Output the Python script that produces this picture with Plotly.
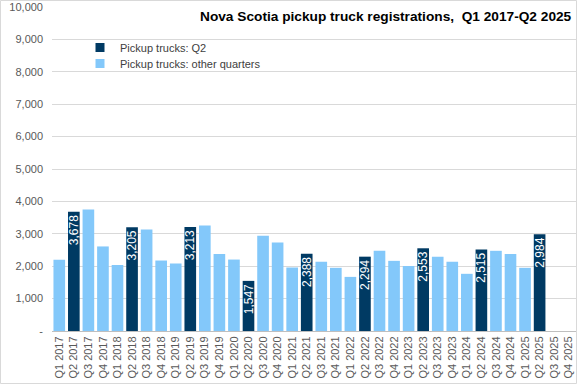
import plotly.graph_objects as go

categories = [f"Q{q} {y}" for y in range(2017, 2026) for q in range(1, 5)]

registrations = [
    2200, 3678, 3750, 2610,
    2040, 3205, 3135, 2175,
    2080, 3213, 3255, 2380,
    2205, 1547, 2940, 2730,
    1960, 2388, 2135, 1950,
    1670, 2294, 2475, 2165,
    2010, 2553, 2290, 2135,
    1765, 2515, 2475, 2380,
    1950, 2984, None, None,
]

series_names = ["Pickup trucks: Q2", "Pickup trucks: other quarters"]
series_colors = ["#003A63", "#83C8FA"]

q2_vals = [v if c.startswith("Q2") else None for c, v in zip(categories, registrations)]
other_vals = [v if not c.startswith("Q2") else None for c, v in zip(categories, registrations)]
q2_text = [f"{v:,}" if v is not None else "" for v in q2_vals]

W, H = 577, 385
ML, MR, MT, MB = 52, 1, 7, 54
PW, PH = W - ML - MR, H - MT - MB

fig = go.Figure()
fig.add_trace(go.Bar(
    x=categories, y=q2_vals, name=series_names[0], showlegend=False,
    marker=dict(color=series_colors[0], line=dict(width=0)),
    text=q2_text, textposition="inside", insidetextanchor="end",
    textangle=-90, constraintext="none",
    textfont=dict(color="white", size=12, family="Liberation Sans, Arial, sans-serif"),
))
fig.add_trace(go.Bar(
    x=categories, y=other_vals, name=series_names[1], showlegend=False,
    marker=dict(color=series_colors[1], line=dict(width=0)),
))
# legend entries with small square keys, one legend box per row
for name, col, lg in zip(series_names, series_colors, ["legend", "legend2"]):
    fig.add_trace(go.Scatter(
        x=[None], y=[None], mode="markers", name=name, legend=lg,
        marker=dict(symbol="square", size=9, color=col),
    ))

legend_common = dict(
    xanchor="left", yanchor="top", bgcolor="rgba(0,0,0,0)",
    font=dict(size=11, color="#404040"), itemwidth=30,
)

fig.update_layout(
    width=W, height=H,
    margin=dict(l=ML, r=MR, t=MT, b=MB),
    paper_bgcolor="white", plot_bgcolor="white",
    barmode="overlay", bargap=0.2,
    font=dict(family="Liberation Sans, Arial, sans-serif", size=11, color="#595959"),
    legend=dict(x=(80 - ML) / PW, y=(H - MB - 33) / PH, **legend_common),
    legend2=dict(x=(80 - ML) / PW, y=(H - MB - 49) / PH, **legend_common),
    showlegend=True,
    xaxis=dict(
        type="category", categoryorder="array", categoryarray=categories,
        tickangle=-90, showgrid=False, showline=True, linecolor="#BFBFBF",
        linewidth=1, ticks="", tickfont=dict(size=11, color="#595959"),
    ),
    yaxis=dict(
        range=[0, 10000], tickvals=list(range(0, 10001, 1000)),
        ticktext=["-"] + [f"{v:,}" for v in range(1000, 10001, 1000)],
        showgrid=True, gridcolor="#D9D9D9", gridwidth=1, zeroline=False,
        ticks="", ticklabelstandoff=8, tickfont=dict(size=11, color="#595959"),
    ),
    annotations=[dict(
        text="<b>Nova Scotia pickup truck registrations,  Q1 2017-Q2 2025</b>",
        xref="paper", yref="paper", x=(574 - ML) / PW, y=(H - MB - 16) / PH,
        xanchor="right", yanchor="middle", showarrow=False,
        font=dict(size=13.7, color="black", family="Liberation Sans, Arial, sans-serif"),
    )],
    shapes=[dict(
        type="rect", xref="paper", yref="paper",
        x0=(0.5 - ML) / PW, x1=(W - 0.5 - ML) / PW,
        y0=-(MB - 1.5) / PH, y1=(H - MB - 0.5) / PH,
        line=dict(color="#D9D9D9", width=1), fillcolor="rgba(0,0,0,0)",
        layer="above",
    )],
)

fig.write_html(
    "out.html",
    config={"displayModeBar": False},
    post_script="document.body.style.margin='0';document.body.style.padding='0';"
                "document.documentElement.style.overflow='hidden';",
)
